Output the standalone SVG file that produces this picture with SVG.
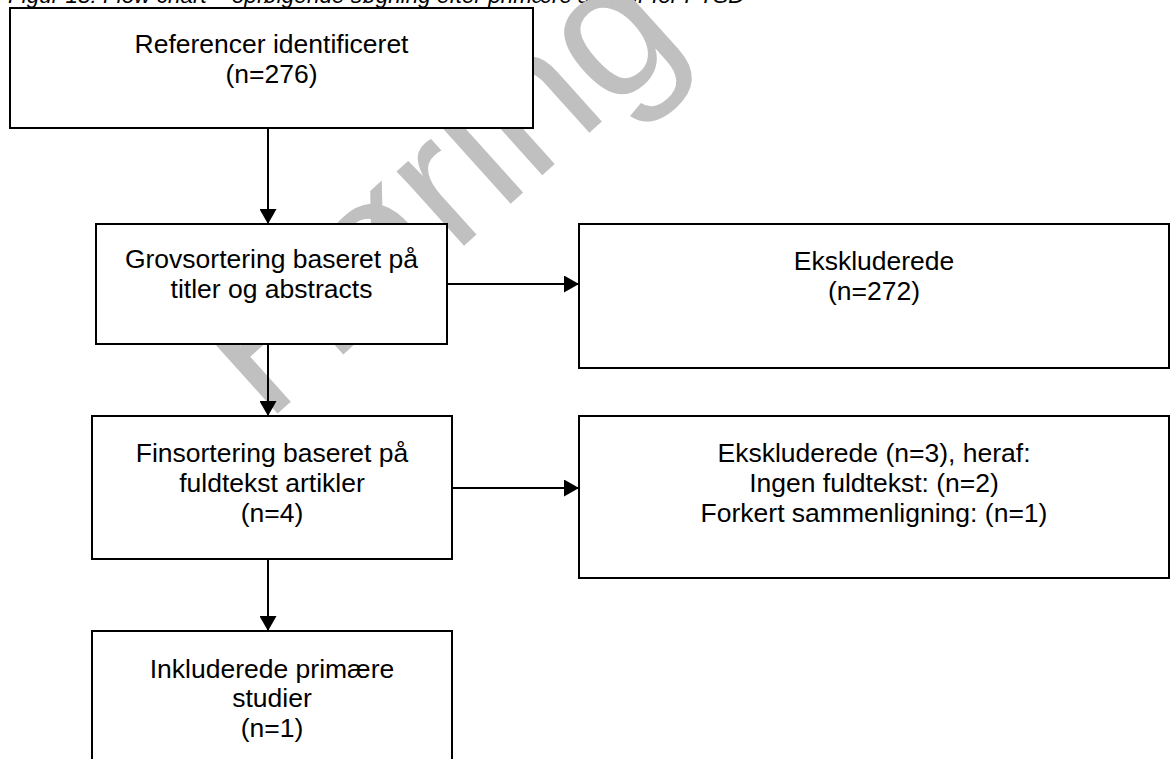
<svg xmlns="http://www.w3.org/2000/svg" width="1171" height="759" viewBox="0 0 1171 759">
  <defs>
    <style>
      .box { fill: #ffffff; stroke: #000000; stroke-width: 2; }
      .lbl { font-family: "Liberation Sans", Arial, sans-serif; font-size: 26.5px; fill: #000000; text-anchor: middle; }
      .cap { font-family: "Liberation Sans", Arial, sans-serif; font-size: 22.5px; font-style: italic; fill: #000000; }
      .wm { font-family: "Liberation Sans", Arial, sans-serif; font-size: 190px; fill: #c0c0c0; }
      .edge { fill: none; stroke: #000000; stroke-width: 2; marker-end: url(#arrow); }
    </style>
    <marker id="arrow" viewBox="0 0 15 17" refX="15" refY="8.5" markerWidth="15" markerHeight="17" markerUnits="userSpaceOnUse" orient="auto">
      <path d="M0,0 L15,8.5 L0,17 Z" fill="#000000"/>
    </marker>
  </defs>

  <rect width="1171" height="759" fill="#ffffff"/>

  <!-- caption line, mostly above the top edge -->
  <text class="cap" x="8" y="3">Figur 18: Flow chart – opfølgende søgning efter primære studier for PTSD</text>

  <!-- background watermark -->
  <text class="wm" transform="translate(266,424) rotate(-42)">Høring</text>

  <g id="connectors">
    <line class="edge" x1="268" y1="128" x2="268" y2="224"/>
    <line class="edge" x1="447" y1="284" x2="579" y2="284"/>
    <line class="edge" x1="268" y1="344" x2="268" y2="416"/>
    <line class="edge" x1="452" y1="488" x2="579" y2="488"/>
    <line class="edge" x1="268" y1="559" x2="268" y2="631"/>
  </g>

  <g id="node-identified">
    <rect class="box" x="10" y="8" width="523" height="120"/>
    <text class="lbl" x="271.5" y="53">Referencer identificeret</text>
    <text class="lbl" x="271.5" y="83">(n=276)</text>
  </g>

  <g id="node-coarse">
    <rect class="box" x="96" y="224" width="351" height="120"/>
    <text class="lbl" x="271.5" y="268">Grovsortering baseret på</text>
    <text class="lbl" x="271.5" y="298">titler og abstracts</text>
  </g>

  <g id="node-excluded-1">
    <rect class="box" x="579" y="224" width="590" height="144"/>
    <text class="lbl" x="874" y="270">Ekskluderede</text>
    <text class="lbl" x="874" y="300">(n=272)</text>
  </g>

  <g id="node-fine">
    <rect class="box" x="92" y="416" width="360" height="143"/>
    <text class="lbl" x="272" y="462">Finsortering baseret på</text>
    <text class="lbl" x="272" y="492">fuldtekst artikler</text>
    <text class="lbl" x="272" y="522">(n=4)</text>
  </g>

  <g id="node-excluded-2">
    <rect class="box" x="579" y="416" width="590" height="162"/>
    <text class="lbl" x="874" y="462">Ekskluderede (n=3), heraf:</text>
    <text class="lbl" x="874" y="492">Ingen fuldtekst: (n=2)</text>
    <text class="lbl" x="874" y="522">Forkert sammenligning: (n=1)</text>
  </g>

  <g id="node-included">
    <rect class="box" x="92" y="631" width="360" height="150"/>
    <text class="lbl" x="272" y="678">Inkluderede primære</text>
    <text class="lbl" x="272" y="707">studier</text>
    <text class="lbl" x="272" y="737">(n=1)</text>
  </g>
</svg>
